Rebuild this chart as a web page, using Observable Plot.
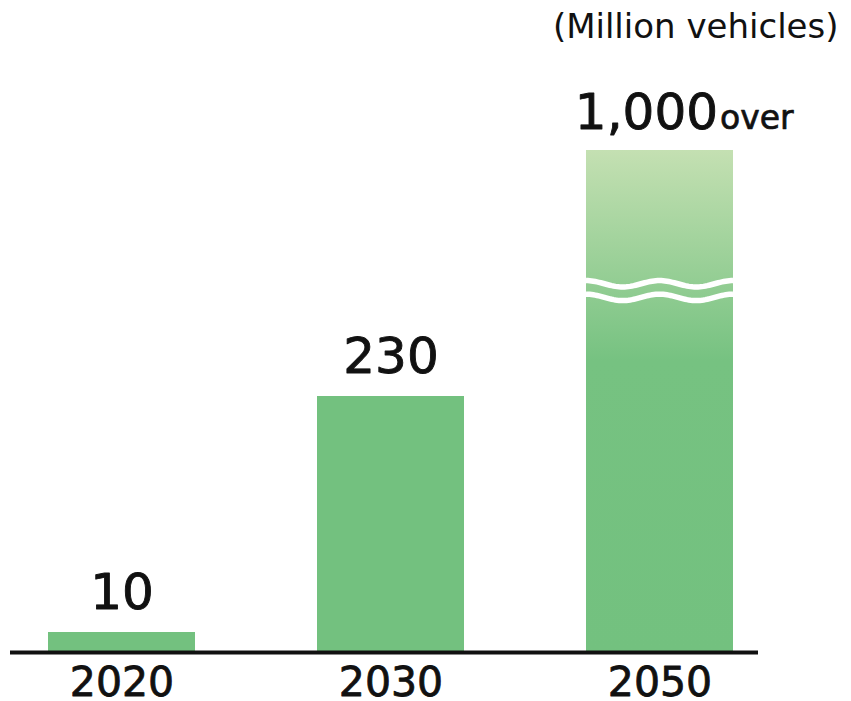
<!DOCTYPE html>
<html>
<head>
<meta charset="utf-8">
<script src="https://cdn.jsdelivr.net/npm/d3@7"></script>
<script src="https://cdn.jsdelivr.net/npm/@observablehq/plot@0.6"></script>
<style>
  html, body { margin: 0; padding: 0; background: #fff; }
  #chart svg { display: block; }
</style>
</head>
<body>
<div id="chart"></div>
<script>
// ---- data ----
const years = ["2020", "2030", "2050"];
const values = [10, 230, 1000];
const labels = ["10", "230", "1,000"];
const suffixes = ["", "", "over"];
const unitLabel = "(Million vehicles)";
// broken-axis: value stops and their displayed (compressed) heights
const breakStops = [0, 10, 230, 1000];
const displayStops = [0, 20, 256, 502];
const breakValue = 560; // where the axis break (waves) is drawn on the 2050 bar

const data = years.map((year, i) => ({year, value: values[i], label: labels[i], suffix: suffixes[i]}));

const green = "#73c17f";
const font = "DejaVu Sans, sans-serif";
const brokenAxis = d3.scaleLinear().domain(breakStops).range(displayStops);

function gradientDefs() {
  const ns = "http://www.w3.org/2000/svg";
  const defs = document.createElementNS(ns, "defs");
  const lg = document.createElementNS(ns, "linearGradient");
  lg.setAttribute("id", "grad2050");
  lg.setAttribute("x1", "0"); lg.setAttribute("y1", "0");
  lg.setAttribute("x2", "0"); lg.setAttribute("y2", "1");
  [["0", "#c4e0b2"], ["0.42", "#76c281"], ["1", green]].forEach(([o, c]) => {
    const s = document.createElementNS(ns, "stop");
    s.setAttribute("offset", o);
    s.setAttribute("stop-color", c);
    lg.appendChild(s);
  });
  defs.appendChild(lg);
  return defs;
}

function waves(index, scales) {
  const ns = "http://www.w3.org/2000/svg";
  const g = document.createElementNS(ns, "g");
  const x = scales.x;
  const bw = x.bandwidth ? x.bandwidth() : 147;
  const x0 = x("2050");
  const yc = scales.y(brokenAxis(breakValue));
  const amp = 3.2, periods = 2;
  [-6.8, 6.8].forEach(off => {
    let d = "";
    const n = 80;
    for (let k = 0; k <= n; k++) {
      const t = k / n;
      const px = x0 + t * bw;
      const py = yc + off - amp * Math.cos(t * periods * 2 * Math.PI);
      d += (k ? "L" : "M") + px.toFixed(2) + "," + py.toFixed(2);
    }
    const p = document.createElementNS(ns, "path");
    p.setAttribute("d", d);
    p.setAttribute("fill", "none");
    p.setAttribute("stroke", "#fff");
    p.setAttribute("stroke-width", "5.5");
    g.appendChild(p);
  });
  return g;
}

const chart = Plot.plot({
  width: 851,
  height: 701,
  marginLeft: 10,
  marginRight: 93,
  marginTop: 150,
  marginBottom: 49,
  style: {fontFamily: font, background: "#fff", color: "#111"},
  x: {domain: years, paddingInner: 0.4535, paddingOuter: 0.117, align: 0.603, axis: null},
  y: {transform: brokenAxis, domain: [0, 502], axis: null},
  marks: [
    gradientDefs,
    Plot.barY(data.filter(d => d.year !== "2050"), {x: "year", y: "value", fill: green}),
    Plot.barY(data.filter(d => d.year === "2050"), {x: "year", y: "value", fill: "url(#grad2050)"}),
    waves,
    Plot.ruleY([0], {stroke: "#111", strokeWidth: 4}),
    Plot.text(data.filter(d => d.suffix === ""), {x: "year", y: "value", text: "label", lineAnchor: "bottom", dy: -24, fontSize: 50, fill: "#111", stroke: "#111", strokeWidth: 0.9}),
    Plot.text(data.filter(d => d.suffix !== ""), {x: "year", y: "value", text: "label", textAnchor: "end", lineAnchor: "bottom", dx: 58, dy: -22, fontSize: 50, fill: "#111", stroke: "#111", strokeWidth: 0.9}),
    Plot.text(data.filter(d => d.suffix !== ""), {x: "year", y: "value", text: "suffix", textAnchor: "start", lineAnchor: "bottom", dx: 60, dy: -22, fontSize: 33, fill: "#111", stroke: "#111", strokeWidth: 0.7}),
    Plot.text(data, {x: "year", y: 0, text: "year", lineAnchor: "bottom", dy: 43, fontSize: 41, fill: "#111", stroke: "#111", strokeWidth: 0.8}),
    Plot.text([unitLabel], {frameAnchor: "top-right", textAnchor: "end", lineAnchor: "bottom", dx: 80, dy: -113, fontSize: 34, fill: "#111"})
  ]
});
document.getElementById("chart").appendChild(chart);
</script>
</body>
</html>
